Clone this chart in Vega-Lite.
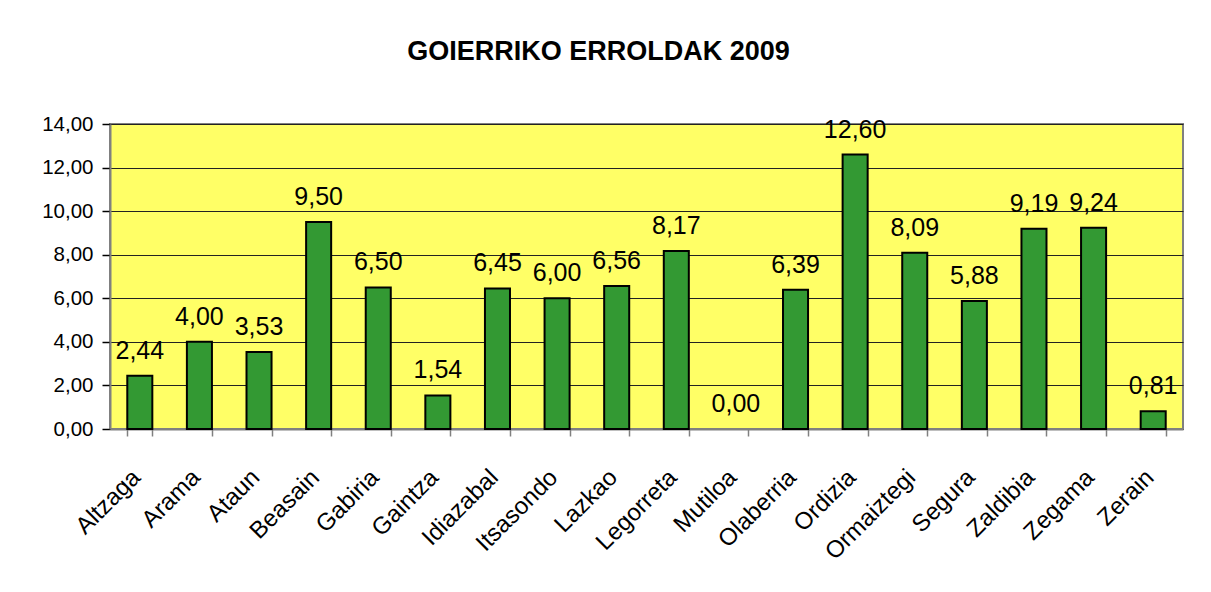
{
  "$schema": "https://vega.github.io/schema/vega-lite/v6.json",
  "autosize": {"type": "none"},
  "padding": {"left": 110, "top": 124, "right": 28, "bottom": 163},
  "width": 1073,
  "height": 305,
  "background": "white",
  "title": {
    "text": "GOIERRIKO ERROLDAK 2009",
    "font": "Liberation Sans",
    "fontSize": 27,
    "fontWeight": "bold",
    "color": "#000000",
    "anchor": "middle",
    "frame": "group",
    "dx": -48,
    "baseline": "alphabetic",
    "offset": 27
  },
  "data": {
    "values": [
      {"herria": "Altzaga", "balioa": 2.44},
      {"herria": "Arama", "balioa": 4.00},
      {"herria": "Ataun", "balioa": 3.53},
      {"herria": "Beasain", "balioa": 9.50},
      {"herria": "Gabiria", "balioa": 6.50},
      {"herria": "Gaintza", "balioa": 1.54},
      {"herria": "Idiazabal", "balioa": 6.45},
      {"herria": "Itsasondo", "balioa": 6.00},
      {"herria": "Lazkao", "balioa": 6.56},
      {"herria": "Legorreta", "balioa": 8.17},
      {"herria": "Mutiloa", "balioa": 0.00},
      {"herria": "Olaberria", "balioa": 6.39},
      {"herria": "Ordizia", "balioa": 12.60},
      {"herria": "Ormaiztegi", "balioa": 8.09},
      {"herria": "Segura", "balioa": 5.88},
      {"herria": "Zaldibia", "balioa": 9.19},
      {"herria": "Zegama", "balioa": 9.24},
      {"herria": "Zerain", "balioa": 0.81}
    ]
  },
  "encoding": {
    "x": {
      "field": "herria",
      "type": "nominal",
      "sort": null,
      "title": null,
      "scale": {"paddingInner": 0.58, "paddingOuter": 0.29},
      "axis": {
        "labelAngle": -45,
        "labelAlign": "right",
        "labelBaseline": "top",
        "labelFont": "Liberation Sans",
        "labelFontSize": 24,
        "labelColor": "#000000",
        "labelPadding": 29,
        "labelOffset": -12,
        "labelLimit": 400,
        "tickBand": "extent",
        "tickSize": 7,
        "tickColor": "#808080",
        "tickWidth": 1.5,
        "domainColor": "#808080",
        "domainWidth": 2,
        "grid": false
      }
    },
    "y": {
      "field": "balioa",
      "type": "quantitative",
      "title": null,
      "scale": {"domain": [0, 14], "nice": false},
      "axis": {
        "values": [0, 2, 4, 6, 8, 10, 12, 14],
        "format": ".2f",
        "labelFont": "Liberation Sans",
        "labelFontSize": 20.5,
        "labelColor": "#000000",
        "labelPadding": 9,
        "tickSize": 8,
        "tickColor": "#000000",
        "tickWidth": 1.5,
        "domainColor": "#808080",
        "domainWidth": 2,
        "grid": true,
        "gridColor": "#222222",
        "gridWidth": 1.2,
        "gridOpacity": 1
      }
    }
  },
  "layer": [
    {
      "mark": {"type": "bar", "fill": "#339933", "stroke": "#000000"},
      "encoding": {
        "strokeWidth": {"condition": {"test": "datum.balioa == 0", "value": 0}, "value": 2}
      }
    },
    {
      "mark": {
        "type": "text",
        "baseline": "alphabetic",
        "dy": -17,
        "font": "Liberation Sans",
        "fontSize": 25,
        "color": "#000000"
      },
      "encoding": {
        "text": {"field": "balioa", "type": "quantitative", "format": ".2f"}
      }
    }
  ],
  "config": {
    "locale": {
      "number": {"decimal": ",", "thousands": ".", "grouping": [3], "currency": ["", " €"]}
    },
    "view": {"fill": "#FFFF66", "stroke": "#808080", "strokeWidth": 2}
  }
}
